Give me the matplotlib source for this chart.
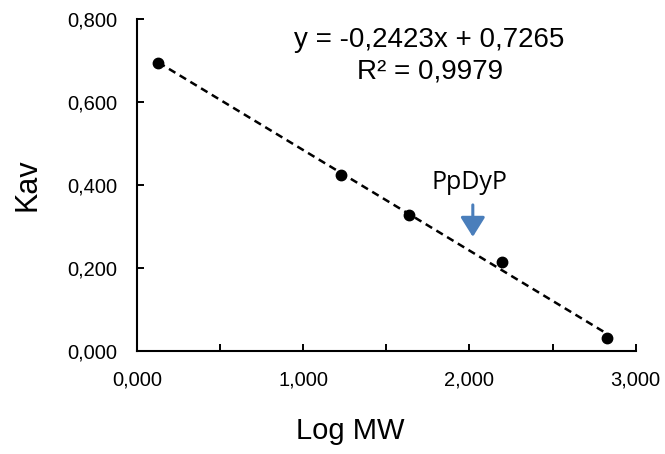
import matplotlib
matplotlib.use("Agg")
import matplotlib.pyplot as plt
from matplotlib.ticker import FuncFormatter, MultipleLocator

# standards: log MW vs Kav
log_mw = [0.128, 1.225, 1.639, 2.196, 2.826]
kav = [0.695, 0.425, 0.327, 0.214, 0.030]

slope = -0.2423
intercept = 0.7265
r2 = 0.9979

sample_name = "PpDyP"
sample_x = 2.02

plt.rcParams['font.family'] = ['Liberation Sans', 'DejaVu Sans']

fig = plt.figure(figsize=(6.65, 4.54), dpi=100)
ax = fig.add_axes([0.206, 0.227, 0.750, 0.731])

ax.plot(log_mw, kav, 'o', color='black', markersize=7.5, zorder=3)

# trendline over the range of the standards
fit_x = [min(log_mw), max(log_mw)]
fit_y = [slope * v + intercept for v in fit_x]
ax.plot(fit_x, fit_y, '--', color='black', linewidth=1.8, dashes=(3, 2))

ax.set_xlim(0, 3)
ax.set_ylim(0, 0.8)
ax.xaxis.set_major_locator(MultipleLocator(1))
ax.xaxis.set_minor_locator(MultipleLocator(0.5))
ax.yaxis.set_major_locator(MultipleLocator(0.2))

fmt = FuncFormatter(lambda v, p: f"{v:.3f}".replace('.', ','))
ax.xaxis.set_major_formatter(fmt)
ax.yaxis.set_major_formatter(fmt)

for s in ['top', 'right']:
    ax.spines[s].set_visible(False)
for s in ['left', 'bottom']:
    ax.spines[s].set_linewidth(1.5)

ax.tick_params(axis='x', direction='in', which='both', length=5, width=1.4,
               labelsize=14.5, pad=14)
ax.tick_params(axis='y', direction='in', length=5, width=1.4, labelsize=14.5, pad=14)

ax.set_xlabel("Log MW", fontsize=21)
ax.xaxis.set_label_coords(0.427, -0.2, transform=ax.transAxes)
ax.set_ylabel("Kav", fontsize=22, labelpad=18)

eq = f"y = {slope:.4f}x + {intercept:.4f}".replace('.', ',')
ax.text(1.76, 0.75, eq, fontsize=20, ha='center', va='center')
ax.text(1.76, 0.673, f"R² = {r2:.4f}".replace('.', ','), fontsize=20,
        ha='center', va='center')

ax.annotate("", xy=(sample_x, 0.275), xytext=(sample_x, 0.352),
            arrowprops=dict(arrowstyle='-|>,head_length=12,head_width=7.5',
                            color='#4a7ebb', lw=2.2, mutation_scale=1,
                            shrinkA=0, shrinkB=0))
ax.text(2.0, 0.405, sample_name, fontsize=18, ha='center',
        va='center', family=['Open Sans', 'DejaVu Sans'])

fig.savefig("out.png", dpi=100)
